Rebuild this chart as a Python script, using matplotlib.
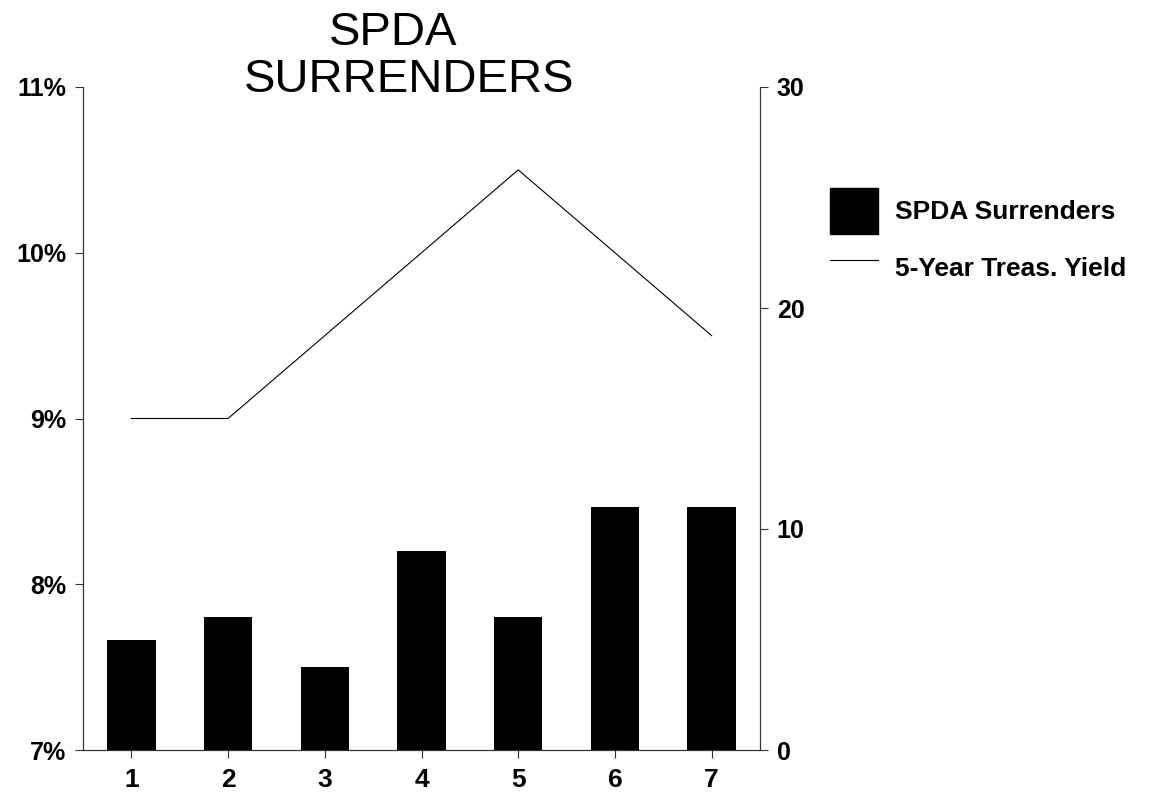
import matplotlib
matplotlib.use("Agg")
import matplotlib.pyplot as plt
from matplotlib.patches import Patch
from matplotlib.lines import Line2D

categories = [1, 2, 3, 4, 5, 6, 7]
surrenders = [5.0, 6.0, 3.75, 9.0, 6.0, 11.0, 11.0]
treas_yield = [9.0, 9.0, 9.5, 10.0, 10.5, 10.0, 9.5]
left_ticks = [7, 8, 9, 10, 11]
left_labels = ["7%", "8%", "9%", "10%", "11%"]
right_ticks = [0, 10, 20, 30]

plt.rcParams['font.family'] = ['Liberation Sans', 'DejaVu Sans']

fig = plt.figure(figsize=(11.5, 7.99), dpi=100)
ax = fig.add_axes([83/1150, 1 - 750/799, (760-83)/1150, (750-87)/799])
ax2 = ax.twinx()

ax2.bar(categories, surrenders, width=0.5, color='black', zorder=2)
ax.plot(categories, treas_yield, color='black', lw=0.8, zorder=3)

ax.set_xlim(0.5, 7.5)
ax.set_ylim(7, 11)
ax2.set_ylim(0, 30)
ax.set_xticks(categories)
ax.set_xticklabels([str(c) for c in categories])
ax.set_yticks(left_ticks)
ax.set_yticklabels(left_labels)
ax2.set_yticks(right_ticks)
ax2.set_yticklabels([str(t) for t in right_ticks])

for a in (ax, ax2):
    a.spines['top'].set_visible(False)
    for s in a.spines.values():
        s.set_linewidth(0.8)
        s.set_color('#333333')
    a.tick_params(direction='out', length=6, width=0.8, color='#333333',
                  labelsize=18, pad=6)

ax.tick_params(axis='x', labelsize=19, pad=7)
for a in (ax, ax2):
    for lbl in a.get_xticklabels() + a.get_yticklabels():
        lbl.set_fontweight('bold')

fig.text(393/1150, 1 - 33/799, "SPDA", ha='center', va='center', fontsize=34)
fig.text(409/1150, 1 - 80/799, "SURRENDERS", ha='center', va='center', fontsize=34)

handles = [Patch(facecolor='black', edgecolor='black', label='SPDA Surrenders'),
           Line2D([0], [0], color='black', lw=0.8, label='5-Year Treas. Yield')]
leg = fig.legend(handles=handles, loc='upper left', bbox_to_anchor=(830/1150, 1 - 188/799),
                 frameon=False, prop={'size': 19, 'weight': 'bold'},
                 handlelength=1.8, handleheight=2.3, labelspacing=0.4, handletextpad=0.65,
                 borderaxespad=0, borderpad=0)

fig.savefig("out.png", dpi=100)
